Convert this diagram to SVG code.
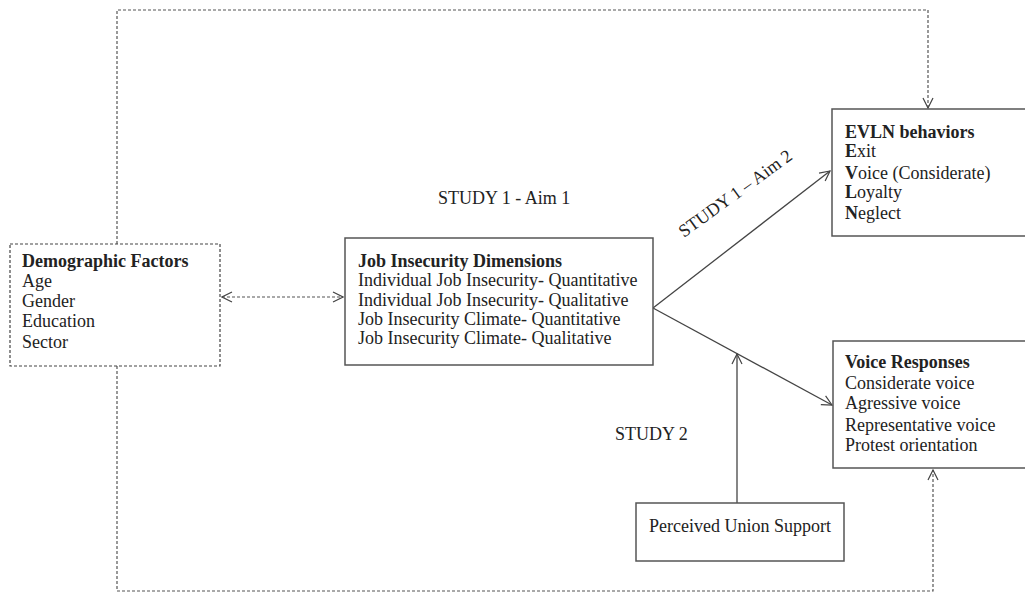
<svg xmlns="http://www.w3.org/2000/svg" width="1025" height="592" viewBox="0 0 1025 592">
<defs>
<marker id="open" viewBox="0 0 12 12" refX="11" refY="6" markerWidth="12" markerHeight="12" markerUnits="userSpaceOnUse" orient="auto-start-reverse">
<path d="M1,1 L11,6 L1,11" fill="none" stroke="#444" stroke-width="1.2"/>
</marker>
</defs>
<style>
text{font-family:"Liberation Serif","Times New Roman",serif;font-size:18px;fill:#222}
.b{font-weight:bold}
.box{fill:#fff;stroke:#555;stroke-width:1.5}
.dbox{fill:#fff;stroke:#444;stroke-width:1.2;stroke-dasharray:3 2}
.solid{fill:none;stroke:#444;stroke-width:1.3}
.dash{fill:none;stroke:#555;stroke-width:1.2;stroke-dasharray:3 2}
</style>
<g id="connectors">
<path class="dash" d="M117,244 V10 H928 V108" marker-end="url(#open)"/>
<path class="dash" d="M117,366 V591 H933 V470" marker-end="url(#open)"/>
<path class="dash" d="M222,297 H343" marker-start="url(#open)" marker-end="url(#open)"/>
<path class="solid" d="M653,308 L830,171" marker-end="url(#open)"/>
<path class="solid" d="M653,308 L832,405" marker-end="url(#open)"/>
<path class="solid" d="M737,503 V354" marker-end="url(#open)"/>
</g>
<g id="demographic">
<rect class="dbox" x="10" y="244" width="210" height="122"/>
<text x="22" y="267" class="b">Demographic Factors</text>
<text x="22" y="287">Age</text>
<text x="22" y="307">Gender</text>
<text x="22" y="327">Education</text>
<text x="22" y="348">Sector</text>
</g>
<g id="job-insecurity">
<rect class="box" x="345" y="238" width="308" height="127"/>
<text x="358" y="267" class="b">Job Insecurity Dimensions</text>
<text x="358" y="286">Individual Job Insecurity- Quantitative</text>
<text x="358" y="306">Individual Job Insecurity- Qualitative</text>
<text x="358" y="325">Job Insecurity Climate- Quantitative</text>
<text x="358" y="344">Job Insecurity Climate- Qualitative</text>
</g>
<g id="evln">
<rect class="box" x="832" y="109" width="200" height="127"/>
<text x="845" y="138" class="b">EVLN behaviors</text>
<text x="845" y="157"><tspan class="b">E</tspan>xit</text>
<text x="845" y="179"><tspan class="b">V</tspan>oice (Considerate)</text>
<text x="845" y="198"><tspan class="b">L</tspan>oyalty</text>
<text x="845" y="219"><tspan class="b">N</tspan>eglect</text>
</g>
<g id="voice-responses">
<rect class="box" x="833" y="341" width="200" height="127"/>
<text x="845" y="368" class="b">Voice Responses</text>
<text x="845" y="389">Considerate voice</text>
<text x="845" y="409">Agressive voice</text>
<text x="845" y="431">Representative voice</text>
<text x="845" y="451">Protest orientation</text>
</g>
<g id="union-support">
<rect class="box" x="636" y="503" width="208" height="58"/>
<text x="740" y="532" text-anchor="middle">Perceived Union Support</text>
</g>
<g id="labels">
<text x="438" y="204">STUDY 1 - Aim 1</text>
<text x="615" y="440">STUDY 2</text>
<text transform="translate(684,238) rotate(-36)">STUDY 1 – Aim 2</text>
</g>
</svg>
